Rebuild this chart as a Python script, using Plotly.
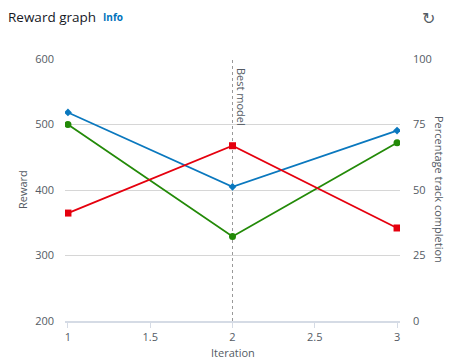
import plotly.graph_objects as go

iterations = [1, 2, 3]
reward_training = [500, 329, 472]            # green, left axis
completion_training = [79.6, 51.2, 72.7]     # blue, right axis
completion_eval = [41.2, 66.9, 35.5]         # red, right axis
best_model_iteration = 2

reward_ticks = [200, 300, 400, 500, 600]
pct_ticks = [0, 25, 50, 75, 100]
x_ticks = [1, 1.5, 2, 2.5, 3]

BLUE = "#0a78be"
GREEN = "#238a08"
RED = "#e5000e"
TXT = "#545b64"
FONT = "Open Sans"

OFF = 8  # page body margin
W, H = 458 - OFF, 360 - OFF
# plot area in window pixels: x 65..400, y 59..321
ML, MT = 65 - OFF, 59 - OFF
MR, MB = W - (400 - OFF), H - (321 - OFF)
PW, PH = W - ML - MR, H - MT - MB


def px(x):
    return (x - OFF - ML) / PW


def py(y):
    return (H - MB - (y - OFF)) / PH


fig = go.Figure()
fig.add_trace(go.Scatter(x=iterations, y=completion_training, yaxis="y2", mode="lines+markers",
                         line=dict(color=BLUE, width=1.8),
                         marker=dict(symbol="diamond", size=6, color=BLUE), name="completion training"))
fig.add_trace(go.Scatter(x=iterations, y=reward_training, mode="lines+markers",
                         line=dict(color=GREEN, width=1.8),
                         marker=dict(symbol="circle", size=7, color=GREEN), name="reward"))
fig.add_trace(go.Scatter(x=iterations, y=completion_eval, yaxis="y2", mode="lines+markers",
                         line=dict(color=RED, width=1.8),
                         marker=dict(symbol="square", size=7, color=RED), name="completion eval"))

fig.add_shape(type="line", xref="x", yref="paper", x0=best_model_iteration, x1=best_model_iteration,
              y0=0, y1=1, line=dict(color="#999999", width=1, dash="dot"), layer="below")

fig.update_layout(
    width=W, height=H,
    margin=dict(l=ML, r=MR, t=MT, b=MB),
    paper_bgcolor="white", plot_bgcolor="white",
    showlegend=False,
    font=dict(family=FONT, size=11, color=TXT),
    xaxis=dict(range=[0.982, 3.018], tickvals=x_ticks, ticktext=[str(v) for v in x_ticks],
               showgrid=False, zeroline=False, showline=True, linecolor="#d5dbe5", linewidth=2,
               ticks="outside", ticklen=5, tickcolor="#d5dbe5", tickwidth=1, automargin=False,
               tickfont=dict(size=11, color=TXT)),
    yaxis=dict(range=[200, 600], tickvals=reward_ticks, showgrid=True, gridcolor="#d6d6d6",
               gridwidth=1, zeroline=False, showline=False, ticks="", ticklabelstandoff=10,
               automargin=False, tickfont=dict(size=11, color=TXT)),
    yaxis2=dict(range=[0, 100], tickvals=pct_ticks, overlaying="y", side="right", showgrid=False,
                zeroline=False, showline=False, ticks="", ticklabelstandoff=12, automargin=False,
                tickfont=dict(size=11, color=TXT)),
)

fig.add_annotation(text="Iteration", xref="paper", yref="paper", x=0.5, y=py(352),
                   xanchor="center", yanchor="middle", showarrow=False, font=dict(size=11, color=TXT))
fig.add_annotation(text="Reward", xref="paper", yref="paper", x=px(22), y=0.5, xanchor="center",
                   yanchor="middle", textangle=-90, showarrow=False, font=dict(size=11, color=TXT))
fig.add_annotation(text="Percentage track completion", xref="paper", yref="paper", x=px(440), y=0.5,
                   xanchor="center", yanchor="middle", textangle=90, showarrow=False,
                   font=dict(size=11, color=TXT))
fig.add_annotation(text="Best model", xref="x", yref="paper", x=best_model_iteration, y=py(66),
                   xanchor="left", yanchor="top", xshift=0, textangle=90, showarrow=False,
                   font=dict(size=11, color=TXT))
fig.add_annotation(text="Reward graph", xref="paper", yref="paper", x=px(6), y=py(17),
                   xanchor="left", yanchor="middle", showarrow=False,
                   font=dict(size=13.5, color="#16191f", family=FONT))
fig.add_annotation(text="<b>Info</b>", xref="paper", yref="paper", x=px(101), y=py(17),
                   xanchor="left", yanchor="middle", showarrow=False,
                   font=dict(size=10, color="#0073bb", family=FONT))
fig.add_annotation(text="↻", xref="paper", yref="paper", x=px(429), y=py(18),
                   xanchor="center", yanchor="middle", showarrow=False,
                   font=dict(size=16, color="#545b64", family="DejaVu Sans"))

fig.write_html("out.html")
